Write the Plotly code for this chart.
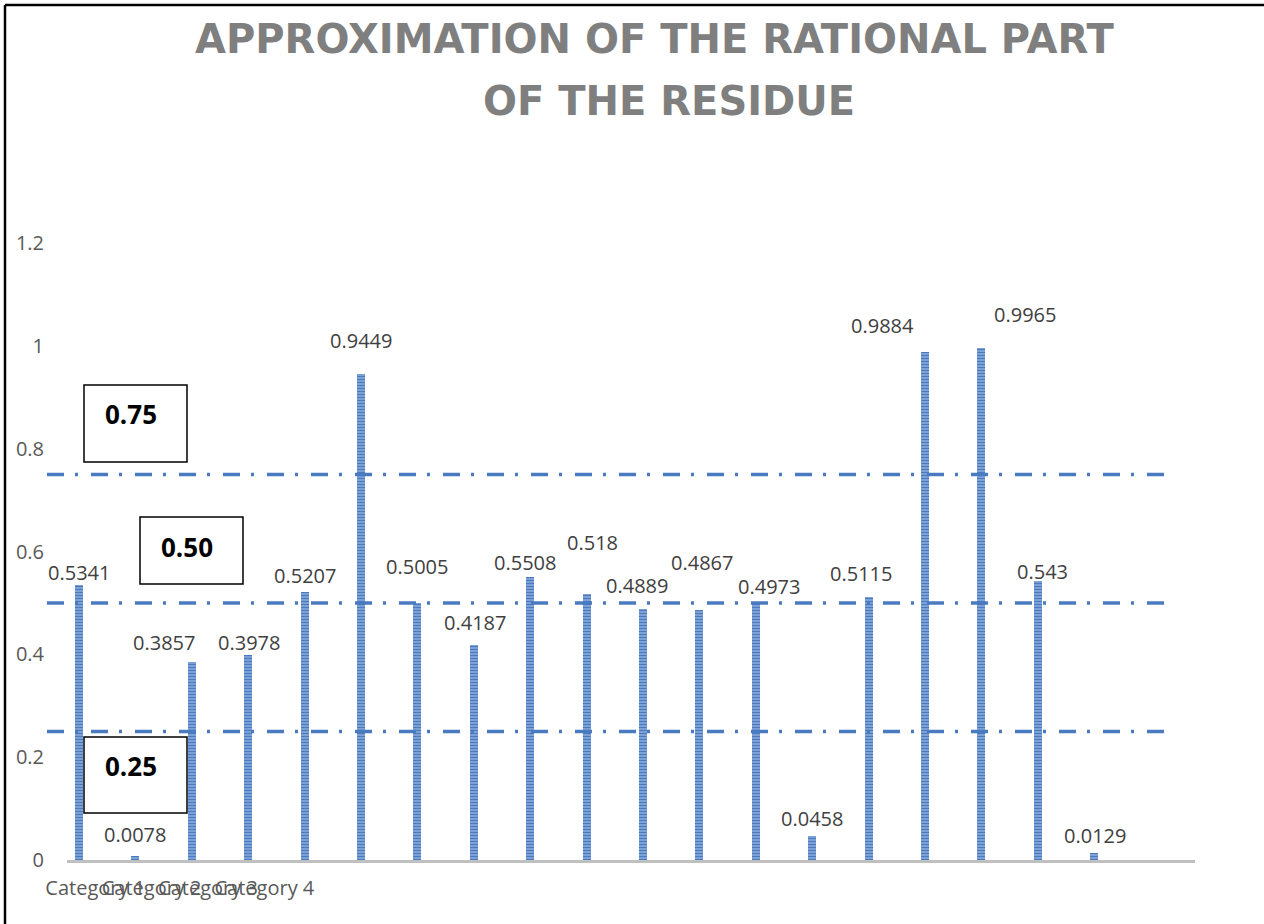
import plotly.graph_objects as go

# Residue fractional parts, one bar per category slot
values = [0.5341, 0.0078, 0.3857, 0.3978, 0.5207, 0.9449, 0.5005, 0.4187,
          0.5508, 0.518, 0.4889, 0.4867, 0.4973, 0.0458, 0.5115, 0.9884,
          0.9965, 0.543, 0.0129]
positions = list(range(1, len(values) + 1))
n_slots = 20

category_ticks = [1, 2, 3, 4]
category_labels = ["Category 1", "Category 2", "Category 3", "Category 4"]

y_ticks = [0, 0.2, 0.4, 0.6, 0.8, 1.0, 1.2]
y_tick_text = ["0", "0.2", "0.4", "0.6", "0.8", "1", "1.2"]

thresholds = [0.25, 0.5, 0.75]

title_lines = ["APPROXIMATION OF THE RATIONAL PART", "OF THE RESIDUE"]

# Pixel nudges (dx, dy) for the value labels, measured from each bar top
label_nudge = [(0, 13), (0, 21), (-28, 19), (1, 13), (0, 17), (0, 34), (0, 36),
               (1, 22), (-5, 14), (6, 51), (-6, 23), (3, 47), (13, 18), (0, 18),
               (-8, 24), (-43, 26), (44, 33), (5, 9), (1, 18)]

# Caption frames in page pixels: (left, top, right, bottom), text centre y
box_px = {0.75: (84, 385, 187, 462, 414),
          0.5: (140, 517, 243, 584, 547),
          0.25: (84, 737, 187, 813, 766)}

# Title line centres in page pixels
title_px = [(654, 39), (669, 101)]

W, H = 1264, 924
ML, MR, MT, MB = 67, 69, 243, 64
plot_w = W - ML - MR
plot_h = H - MT - MB


def px_x(px):
    return (px - ML) / plot_w


def px_y(py):
    return 1 - (py - MT) / plot_h


BLUE = "#4a7bc0"
BAR_SHIFT = -0.287   # bar centre relative to slot centre
BAR_W = 0.14

fig = go.Figure()
fig.add_trace(go.Bar(
    x=positions,
    y=values,
    width=BAR_W,
    offset=BAR_SHIFT - BAR_W / 2,
    marker=dict(
        color="#bcd0ec",
        line=dict(width=0),
        pattern=dict(shape="-", fgcolor=BLUE, bgcolor="#bcd0ec",
                     size=3, solidity=0.7, fillmode="replace"),
    ),
    hoverinfo="x+y",
    showlegend=False,
))

# Value labels above the bars
for xi, v, (dx, dy) in zip(positions, values, label_nudge):
    fig.add_annotation(
        x=xi + BAR_SHIFT, y=v, xref="x", yref="y",
        text=f"{v:g}", showarrow=False,
        xanchor="center", yanchor="middle",
        xshift=dx, yshift=dy,
        font=dict(family="Open Sans", size=20, color="#404040"),
    )

# Dash-dot reference lines
for t in thresholds:
    fig.add_shape(
        type="line", xref="paper", yref="y",
        x0=px_x(47), x1=px_x(1165), y0=t, y1=t,
        line=dict(color=BLUE, width=3.5, dash="17px,11px,3px,13px"),
    )

# Framed threshold captions
for t in thresholds:
    x0, y0, x1, y1, ty = box_px[t]
    fig.add_shape(
        type="rect", xref="paper", yref="paper",
        x0=px_x(x0), x1=px_x(x1), y0=px_y(y0), y1=px_y(y1),
        line=dict(color="black", width=1.5), fillcolor="white", layer="above",
    )
    fig.add_annotation(
        x=px_x(x0 + 19), y=px_y(ty), xref="paper", yref="paper",
        text=f"<b>{t:.2f}</b>", showarrow=False,
        xanchor="left", yanchor="middle",
        font=dict(family="Open Sans", size=26, color="black"),
    )

# Chart title, two centred lines
for line, (cx, cy) in zip(title_lines, title_px):
    fig.add_annotation(
        x=px_x(cx), y=px_y(cy), xref="paper", yref="paper",
        text=f"<b>{line}</b>", showarrow=False,
        xanchor="center", yanchor="middle",
        font=dict(family="DejaVu Sans", size=40, color="#7f7f7f"),
    )

# Frame lines along the top and left edges
fig.add_shape(type="line", xref="paper", yref="paper",
              x0=px_x(5), x1=px_x(W + 5), y0=px_y(5), y1=px_y(5),
              line=dict(color="black", width=2.5))
fig.add_shape(type="line", xref="paper", yref="paper",
              x0=px_x(5), x1=px_x(5), y0=px_y(5), y1=px_y(H + 5),
              line=dict(color="black", width=2.5))

fig.update_layout(
    width=W, height=H,
    margin=dict(l=ML, r=MR, t=MT, b=MB, pad=0),
    paper_bgcolor="white", plot_bgcolor="white",
    xaxis=dict(
        range=[0.5, n_slots + 0.5],
        tickmode="array", tickvals=category_ticks, ticktext=category_labels,
        tickangle=0, ticks="", showgrid=False, zeroline=False,
        showline=True, linecolor="#c0c0c0", linewidth=3,
        tickfont=dict(family="Open Sans", size=20, color="#595959"),
        ticklabelstandoff=8,
    ),
    yaxis=dict(
        range=[0, 1.2],
        tickmode="array", tickvals=y_ticks, ticktext=y_tick_text,
        ticks="", showgrid=False, zeroline=False, showline=False,
        tickfont=dict(family="Open Sans", size=20, color="#595959"),
        ticklabelstandoff=22,
    ),
    bargap=0,
)

fig.write_html("out.html")
